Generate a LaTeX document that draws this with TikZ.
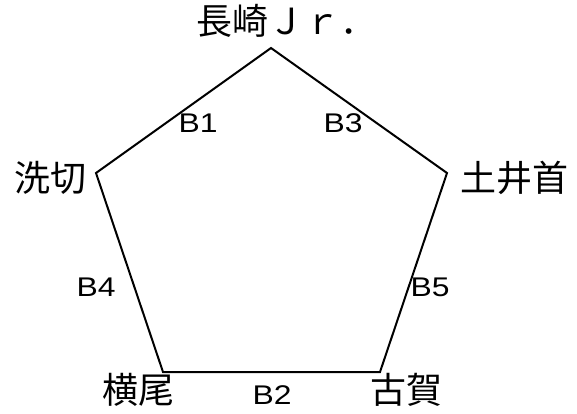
\documentclass[tikz,border=0pt]{standalone}
\usepackage{fontspec}
\newfontfamily\jp{Noto Sans CJK JP}
\newfontfamily\lab[FakeStretch=1.18]{Liberation Sans}
\begin{document}
\begin{tikzpicture}[x=1pt,y=-1pt,
  station/.style={inner sep=0pt,font=\jp\fontsize{36}{40}\selectfont},
  edgelab/.style={inner sep=0pt,font=\lab\fontsize{27}{30}\selectfont},
  track/.style={line width=2pt,line join=miter}]
\useasboundingbox (0,0) rectangle (577,414);
\coordinate (A) at (271,48);
\coordinate (L) at (96,173);
\coordinate (R) at (447,173);
\coordinate (BL) at (163,372);
\coordinate (BR) at (380,372);
\draw[track] (A) -- (R) -- (BR) -- (BL) -- (L) -- cycle;
\node[station,anchor=west] (nA) at (196,21) {長崎Ｊｒ．};
\node[station] (nL) at (50,178) {洗切};
\node[station] (nR) at (514,178) {土井首};
\node[station] (nBL) at (138,390) {横尾};
\node[station] (nBR) at (406,390) {古賀};
\node[edgelab] (b1) at (198,123) {B1};
\node[edgelab] (b3) at (343,123) {B3};
\node[edgelab] (b4) at (96,287) {B4};
\node[edgelab] (b5) at (430,287) {B5};
\node[edgelab] (b2) at (272,395) {B2};
\end{tikzpicture}
\end{document}
